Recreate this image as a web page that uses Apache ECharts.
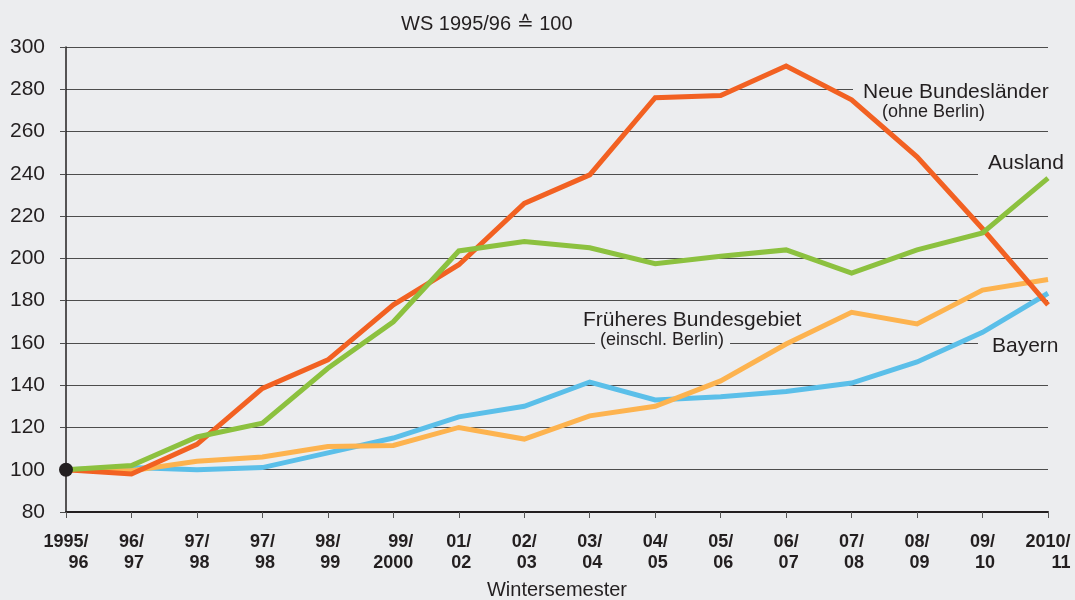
<!DOCTYPE html>
<html>
<head>
<meta charset="utf-8">
<script src="https://cdn.jsdelivr.net/npm/echarts@6/dist/echarts.min.js"></script>
<style>
  html, body { margin: 0; padding: 0; background: #ecedef; }
  #chart_container { width: 1075px; height: 600px; }
</style>
</head>
<body>
<div id="chart_container"></div>
<script>
// Wintersemester, WS 1995/96 = 100
const semesters = ['1995/96', '96/97', '97/98', '97/98', '98/99', '99/2000', '01/02', '02/03',
                   '03/04', '04/05', '05/06', '06/07', '07/08', '08/09', '09/10', '2010/11']

const neueLaender = [100, 98, 112, 138.5, 152, 178, 197, 226, 239.5, 276, 277, 291, 275, 248, 214, 178]
const ausland = [100, 102, 115.5, 122, 148, 170, 203.5, 208, 205, 197.5, 201, 204, 193, 204, 212, 238]
const bayern = [100, 101, 100, 101, 108, 115, 125, 130, 141.5, 133, 134.5, 137, 141, 151, 165, 183.5]
const fruehBund = [100, 99.5, 104, 106, 111, 111.5, 120, 114.5, 125.5, 130, 142, 159.5, 174.5, 169, 185, 190]

const yTicks = {min: 80, max: 300, step: 20}

const bg = '#ecedef'
const ink = '#231f20'
const font = '"Liberation Sans", Arial, Helvetica, sans-serif'

document.addEventListener("DOMContentLoaded", buildChart);

function lineSeries(name, data, color){
    return {
        name: name,
        type: 'line',
        data: data,
        symbol: 'none',
        lineStyle: {color: color, width: 5, join: 'miter'},
        z: 2
    }
}

//label with a patch of background behind it, so the grid line is cut
function tag(text, x, y, size, pad){
    return {
        type: 'text',
        x: x,
        y: y,
        z: 1,
        style: {
            text: text,
            font: size + 'px ' + font,
            fill: ink,
            verticalAlign: 'middle',
            backgroundColor: pad ? bg : null,
            padding: pad || 0
        }
    }
}

function buildChart(){
    let chart = echarts.init(document.getElementById('chart_container'))

    let option = {
        backgroundColor: bg,
        animation: false,
        title: {
            text: 'WS 1995/96 \u2259 100',
            left: 396,
            top: 9,
            textStyle: {fontFamily: font, fontSize: 20, fontWeight: 'normal', color: ink}
        },
        grid: {left: 66, right: 27, top: 47, bottom: 88, outerBoundsMode: 'none'},
        xAxis: {
            type: 'category',
            data: semesters,
            boundaryGap: false,
            name: 'Wintersemester',
            nameLocation: 'middle',
            nameGap: 68,
            nameTextStyle: {fontFamily: font, fontSize: 20, color: ink},
            axisLine: {lineStyle: {color: ink, width: 2}},
            axisTick: {length: 6, lineStyle: {color: '#555'}},
            axisLabel: {
                interval: 0,
                margin: 20,
                formatter: function (v) {
                    let parts = v.split('/')
                    return '{r|' + parts[0] + '/}\n{r|' + parts[1] + '}'
                },
                rich: {
                    r: {align: 'right', fontFamily: font, fontSize: 18, fontWeight: 'bold',
                        color: ink, lineHeight: 21}
                }
            }
        },
        yAxis: {
            type: 'value',
            min: yTicks.min,
            max: yTicks.max,
            interval: yTicks.step,
            axisLine: {show: true, lineStyle: {color: ink, width: 1.5}},
            axisTick: {show: true, length: 6, lineStyle: {color: '#4d4d4d'}},
            axisLabel: {margin: 21, fontFamily: font, fontSize: 21, color: ink},
            splitLine: {lineStyle: {color: '#4d4d4d', width: 1}}
        },
        graphic: [
            tag('Neue Bundesländer', 853, 92, 21, [2, 0, 2, 10]),
            tag('(ohne Berlin)', 882, 112, 18),
            tag('Ausland', 978, 163, 21, [2, 0, 4, 10]),
            tag('Früheres Bundesgebiet', 583, 320, 21),
            tag('(einschl. Berlin)', 595, 340, 18, [1, 6, 2, 5]),
            tag('Bayern', 978, 346, 21, [2, 0, 2, 14])
        ],
        series: [
            lineSeries('Bayern', bayern, '#5bbfe9'),
            lineSeries('Früheres Bundesgebiet', fruehBund, '#fdb34f'),
            lineSeries('Neue Bundesländer', neueLaender, '#f26122'),
            lineSeries('Ausland', ausland, '#8cc13f'),
            {
                name: 'Basis',
                type: 'scatter',
                data: [[semesters[0], fruehBund[0]]],
                symbolSize: 14,
                itemStyle: {color: ink, opacity: 1},
                z: 5
            }
        ]
    }

    chart.setOption(option)
}
</script>
</body>
</html>
